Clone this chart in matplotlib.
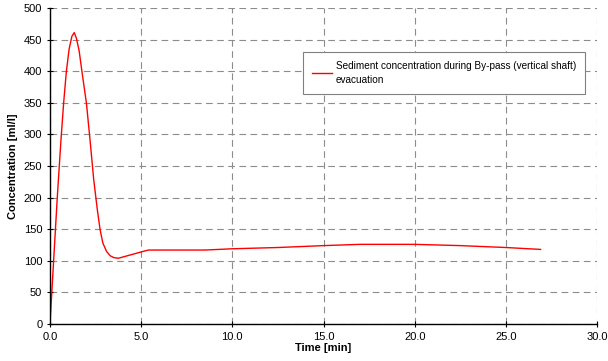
import matplotlib.pyplot as plt

# Sediment concentration readings
time_min = [0.0, 0.1, 0.2, 0.4, 0.6, 0.75, 0.9, 1.05, 1.2, 1.33, 1.45, 1.6, 1.75,
            2.0, 2.2, 2.4, 2.6, 2.75, 2.9, 3.1, 3.3, 3.5, 3.75, 4.0, 4.5, 5.0,
            5.4, 6.5, 8.5, 10.0, 12.5, 15.0, 17.0, 20.0, 22.5, 25.0, 26.9]
conc = [0, 50, 100, 200, 290, 350, 400, 435, 455, 461, 452, 432, 400,
        349, 290, 228, 180, 149, 128, 115, 108, 105, 104, 106, 110, 114,
        117, 117, 117, 119, 121, 124, 126, 126, 124, 121, 118]

x_ticks = [0.0, 5.0, 10.0, 15.0, 20.0, 25.0, 30.0]
y_ticks = [0, 50, 100, 150, 200, 250, 300, 350, 400, 450, 500]

plt.rcParams['font.family'] = ['Liberation Sans', 'DejaVu Sans']

fig = plt.figure(figsize=(6.08, 3.61), dpi=100)
ax = fig.add_axes([0.0822, 0.1025, 0.8998, 0.8755])

ax.plot(time_min, conc, color='#ff0000', linewidth=1.0,
        label='Sediment concentration during By-pass (vertical shaft)\nevacuation')

ax.set_xlim(0, 30)
ax.set_ylim(0, 500)
ax.set_xticks(x_ticks)
ax.set_xticklabels(['%.1f' % t for t in x_ticks])
ax.set_yticks(y_ticks)

ax.grid(True, color='#8c8c8c', linestyle=(0, (6, 4)), linewidth=0.8)
ax.set_axisbelow(True)
for s in ['top', 'right']:
    ax.spines[s].set_visible(False)
ax.spines['left'].set_linewidth(1.0)
ax.spines['bottom'].set_linewidth(1.0)
ax.tick_params(direction='inout', length=5, width=0.8, labelsize=8, pad=3)

ax.set_xlabel('Time [min]', fontsize=8, fontweight='bold', labelpad=1)
ax.set_ylabel('Concentration [ml/l]', fontsize=8, fontweight='bold', labelpad=4)

leg = ax.legend(loc='upper left', bbox_to_anchor=(0.4625, 0.861), borderaxespad=0,
                fontsize=7.2, frameon=True, fancybox=False, edgecolor='#808080',
                handlelength=2.0, handletextpad=0.4, borderpad=0.9, framealpha=1)
leg.get_frame().set_linewidth(0.8)
for t in leg.get_texts():
    t.set_linespacing(1.5)

fig.savefig('out.png', dpi=100)
